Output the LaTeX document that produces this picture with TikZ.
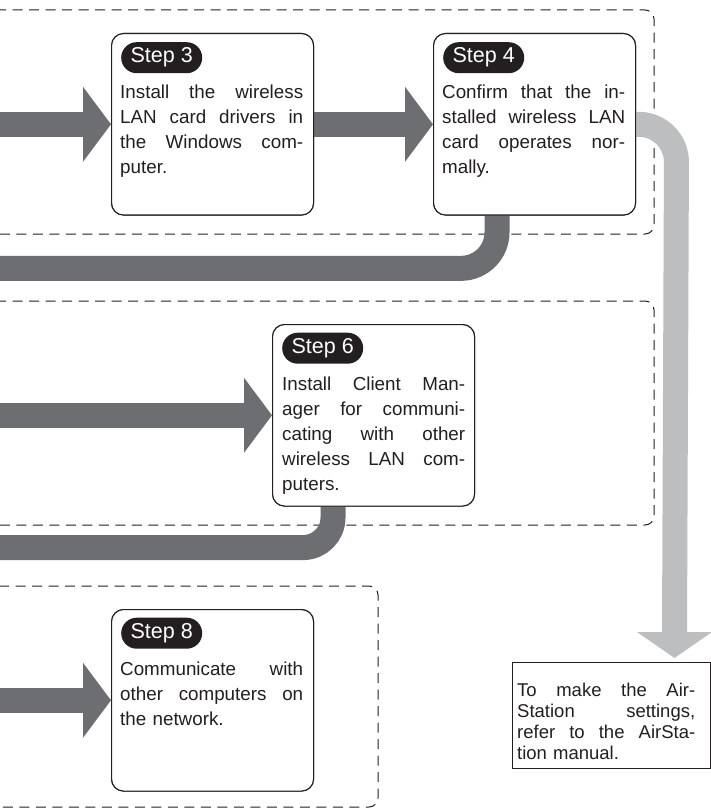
\documentclass[tikz,border=0pt]{standalone}
\usepackage{fontspec}
\setmainfont{Liberation Sans}
\usetikzlibrary{calc}
\definecolor{darkband}{HTML}{6D6E71}
\definecolor{lightband}{HTML}{BCBEC0}
\definecolor{inkblack}{HTML}{231F20}
\newcommand{\jl}[1]{\makebox[183pt][s]{\spaceskip=0.278em plus 20em\relax #1}\\}
\newcommand{\jla}[1]{\makebox[178pt][s]{\spaceskip=0.278em plus 20em\relax #1}\\}
\begin{document}
\begin{tikzpicture}[x=1pt,y=-1pt,
  stepbox/.style={draw=inkblack, fill=white, line width=1.1pt, rounded corners=12pt,
    minimum width=202pt, minimum height=181.5pt, anchor=north west, inner sep=0pt},
  pill/.style={fill=inkblack, rounded corners=15.5pt, minimum width=81pt, minimum height=31pt,
    inner sep=0pt, anchor=north west, text=white, font=\fontsize{21.5}{24}\selectfont},
  body/.style={anchor=base west, inner sep=0pt, text width=183pt, align=left,
    text=inkblack, font=\fontsize{18.8}{25}\selectfont},
  group/.style={draw=inkblack, line width=1pt, dash pattern=on 10pt off 6.5pt, rounded corners=9pt},
  band/.style={draw=darkband, line width=25pt, rounded corners=#1},
  band/.default=0pt,
  lband/.style={draw=lightband, line width=25pt, rounded corners=#1},
  lband/.default=0pt,
]
\useasboundingbox (0,0) rectangle (711,810);
\clip (0,0) rectangle (711,810);

% dashed groups
\draw[group] (-20,10) rectangle (654,234);
\draw[group] (-20,301) rectangle (654,525);
\draw[group] (-20,586) rectangle (378,807);

% step boxes (placed first as coordinates, drawn later over bands)
\path (111,33) node[stepbox] (s3) {};
\path (433,33) node[stepbox] (s4) {};
\path (272,324) node[stepbox] (s6) {};
\path (111,609) node[stepbox] (s8) {};
\path (512,662) node[draw=inkblack, line width=0.9pt, fill=white, anchor=north west,
  minimum width=198pt, minimum height=106pt, inner sep=0pt] (air) {};
\coordinate (airin) at (674.5,658);

% arrows into step boxes
\draw[band] ($(s3.west)+(-120,0)$) -- ($(s3.west)+(-27,0)$);
\fill[darkband] (s3.west) -- ++(-28,-37.5) -- ++(0,75) -- cycle;
\draw[band] (s3.east) -- ($(s4.west)+(-27,0)$);
\fill[darkband] (s4.west) -- ++(-28,-37.5) -- ++(0,75) -- cycle;
\draw[band] ($(s6.west)+(-280,0)$) -- ($(s6.west)+(-27,0)$);
\fill[darkband] (s6.west) -- ++(-28,-37.5) -- ++(0,75) -- cycle;
\draw[band] ($(s8.west)+(-120,0)$) -- ($(s8.west)+(-27,0)$);
\fill[darkband] (s8.west) -- ++(-28,-37.5) -- ++(0,75) -- cycle;

% return bands
\draw[band=36pt] ($(s4.south west)+(64,0)$) -- ++(0,52.75) -- ($(s4.south west)+(-600,52.75)$);
\draw[band=30pt] ($(s6.south west)+(61,0)$) -- ++(0,41) -- ++(-400,0);

% light arrow to AirStation box
\draw[lband=38pt] (s4.east) -- ++(40.5,0) -- ($(airin)+(0,-25)$);
\fill[lightband] (airin) -- ++(-37.5,-26) -- ++(75,0) -- cycle;

% redraw boxes on top
\path (111,33) node[stepbox] {};
\path (433,33) node[stepbox] {};
\path (272,324) node[stepbox] {};
\path (111,609) node[stepbox] {};
\path (512,662) node[draw=inkblack, line width=0.9pt, fill=white, anchor=north west,
  minimum width=198pt, minimum height=106pt, inner sep=0pt] {};

% pills
\node[pill] (p3) at ($(s3.north west)+(10,9)$) {Step 3};
\node[pill] (p4) at ($(s4.north west)+(10,9)$) {Step 4};
\node[pill] (p6) at ($(s6.north west)+(10,8.5)$) {Step 6};
\node[pill] (p8) at ($(s8.north west)+(10,8.5)$) {Step 8};

% texts
\node[body] (t3) at ($(s3.north west)+(9,66)$) {\jl{Install the wireless}\jl{LAN card drivers in}\jl{the Windows com-}puter.};
\node[body] (t4) at ($(s4.north west)+(9,66)$) {\jl{Confirm that the in-}\jl{stalled wireless LAN}\jl{card operates nor-}mally.};
\node[body] (t6) at ($(s6.north west)+(10,66)$) {\jl{Install Client Man-}\jl{ager for communi-}\jl{cating with other}\jl{wireless LAN com-}puters.};
\node[body] (t8) at ($(s8.north west)+(9,66)$) {\jl{Communicate with}\jl{other computers on}the network.};
\node[body, text width=178pt, font=\fontsize{18.5}{21}\selectfont] (ta) at ($(air.north west)+(5,34.5)$)
  {\jla{To make the Air-}\jla{Station settings,}\jla{refer to the AirSta-}tion manual.};
\end{tikzpicture}
\end{document}
